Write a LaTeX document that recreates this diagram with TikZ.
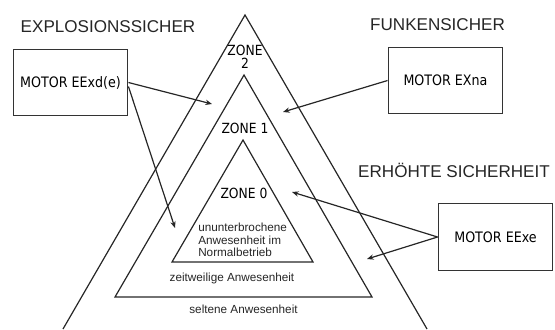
\documentclass[tikz,border=0pt]{standalone}
\usepackage{fontspec}
\setmainfont{Liberation Sans}
\newfontfamily\isofont[FakeStretch=0.88]{DejaVu Sans}
\usetikzlibrary{arrows.meta, positioning}

\tikzset{
    motor/.style={draw=black!80, line width=0.9pt, minimum width=86pt, minimum height=50pt, font=\isofont\fontsize{10.8}{11}\selectfont},
    zone/.style={font=\isofont\fontsize{10.5}{9.6}\selectfont, align=center, inner sep=0pt},
    heading/.style={font=\fontsize{12.8}{14}\selectfont, text=black!85, inner sep=0pt},
    info/.style={font=\fontsize{8.8}{9.4}\selectfont, text=black!85, inner sep=0pt},
    side/.style={draw=black!85, line width=0.9pt},
    pointer/.style={draw=black!85, line width=0.9pt, -{Stealth[length=5pt,width=4pt]}}
}

\begin{document}
\begin{tikzpicture}[x=0.75pt, y=-0.75pt]
    \useasboundingbox (0,0) rectangle (555,329);
    % Define triangles
    \coordinate (o1) at (245,15);
    \coordinate (o2) at (63,329);
    \coordinate (o3) at (427,329);
    \coordinate (m1) at (244,75);
    \coordinate (m2) at (115,297);
    \coordinate (m3) at (372,297);
    \coordinate (i1) at (243,140);
    \coordinate (i2) at (172,262);
    \coordinate (i3) at (313,262);
    \draw[side] (o2) -- (o1) -- (o3);
    \draw[side] (m1) -- (m2) -- (m3) -- cycle;
    \draw[side] (i1) -- (i2) -- (i3) -- cycle;
    % Define nodes
    \node[heading] (exp) at (108,27) {EXPLOSIONSSICHER};
    \node[heading] (fun) at (437.5,25) {FUNKENSICHER};
    \node[heading] (erh) at (454,170) {ERH\"OHTE SICHERHEIT};
    \node[motor] (xd) at (70.5,82.5) {MOTOR EExd(e)};
    \node[motor] (na) at (445.5,80.5) {MOTOR EXna};
    \node[motor] (xe) at (495.5,237) {MOTOR EExe};
    \node[zone] (z2) at (245,57) {ZONE\\2};
    \node[zone] (z1) at (245,128) {ZONE 1};
    \node[zone] (z0) at (244,193) {ZONE 0};
    \node[info, align=left, anchor=west] (t0) at (198,240) {ununterbrochene\\Anwesenheit im\\Normalbetrieb};
    \node[info] (t1) at (232,278) {zeitweilige Anwesenheit};
    \node[info] (t2) at (243.5,309) {seltene Anwesenheit};
    % Draw edges
    \coordinate (a1) at (212,104);
    \coordinate (a2) at (175,228);
    \coordinate (a3) at (283,112);
    \coordinate (a4) at (292,192);
    \coordinate (a5) at (367,259);
    \draw[pointer] (xd.east) -- (a1);
    \draw[pointer] ([yshift=-3pt]xd.east) -- (a2);
    \draw[pointer] (na.west) -- (a3);
    \draw[pointer] (xe.west) -- (a4);
    \draw[pointer] (xe.west) -- (a5);

\end{tikzpicture}
\end{document}
